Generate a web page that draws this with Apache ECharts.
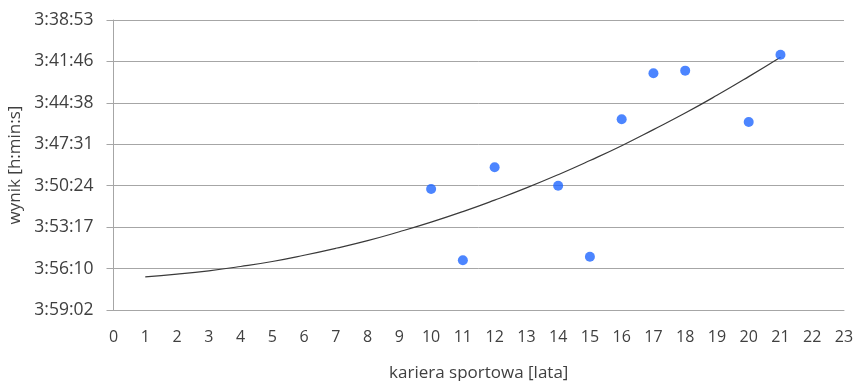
<!DOCTYPE html>
<html>
<head>
<meta charset="utf-8">
<script src="https://cdn.jsdelivr.net/npm/echarts@6/dist/echarts.min.js"></script>
<style>
  html, body { margin: 0; padding: 0; background: #fff; }
  #chart { width: 856px; height: 381px; }
</style>
</head>
<body>
<div id="chart"></div>
<script>
// Career length (years) vs. race result (h:mm:ss)
const careerYears = [10, 11, 12, 14, 15, 16, 17, 18, 20, 21];
const resultTimes = ['3:50:38', '3:55:35', '3:49:07', '3:50:24', '3:55:20',
                     '3:45:47', '3:42:35', '3:42:24', '3:45:58', '3:41:18'];

// Trend curve read along its length
const trendYears = [1, 2, 3, 4, 5, 6, 7, 8, 9, 10, 11, 12, 13, 14, 15, 16, 17, 18, 19, 20, 21];
const trendTimes = ['3:56:44', '3:56:33', '3:56:19', '3:56:01', '3:55:40', '3:55:14',
                    '3:54:45', '3:54:13', '3:53:36', '3:52:56', '3:52:12', '3:51:24',
                    '3:50:33', '3:49:38', '3:48:39', '3:47:37', '3:46:30', '3:45:21',
                    '3:44:07', '3:42:49', '3:41:28'];

// Y axis: 0.002-day steps from 0.152 to 0.166 day (in seconds)
const yTickLabels = ['3:38:53', '3:41:46', '3:44:38', '3:47:31', '3:50:24', '3:53:17', '3:56:10', '3:59:02'];
const yStep = 172.8;
const yMin = 76 * yStep;
const yMax = yMin + (yTickLabels.length - 1) * yStep;

function toSeconds(t) {
  const p = t.split(':').map(Number);
  return p[0] * 3600 + p[1] * 60 + p[2];
}

const font = '"Open Sans", "Liberation Sans", sans-serif';
const gray = '#a6a6a6';
const textColor = '#404040';

const chart = echarts.init(document.getElementById('chart'), null, { renderer: 'canvas' });
chart.setOption({
  animation: false,
  backgroundColor: '#fff',
  grid: { left: 113.5, right: 12, top: 20, bottom: 71, containLabel: false, outerBoundsMode: 'none' },
  xAxis: {
    type: 'value',
    min: 0, max: 23, interval: 1,
    name: 'kariera sportowa [lata]',
    nameLocation: 'middle',
    nameGap: 55,
    nameTextStyle: { fontFamily: font, fontSize: 17, color: textColor },
    axisLine: { onZero: false, lineStyle: { color: gray, width: 1 } },
    axisTick: { show: false },
    axisLabel: { fontFamily: font, fontSize: 16, color: textColor, margin: 19 },
    splitLine: { show: false }
  },
  yAxis: {
    type: 'value',
    inverse: true,
    min: yMin, max: yMax, interval: yStep,
    name: 'wynik [h:min:s]',
    nameLocation: 'middle',
    nameGap: 88,
    nameRotate: 90,
    nameTextStyle: { fontFamily: font, fontSize: 17, color: textColor },
    axisLine: { show: true, lineStyle: { color: gray, width: 1 } },
    axisTick: { show: true, length: 7, lineStyle: { color: gray } },
    axisLabel: {
      fontFamily: font, fontSize: 17.5, color: textColor, margin: 20,
      formatter: v => yTickLabels[Math.round((v - yMin) / yStep)] || ''
    },
    splitLine: { show: true, lineStyle: { color: gray, width: 1 } }
  },
  series: [
    {
      type: 'line',
      data: trendYears.map((x, i) => [x, toSeconds(trendTimes[i])]),
      smooth: true,
      symbol: 'none',
      lineStyle: { color: '#3a3a3a', width: 1.2 },
      z: 2
    },
    {
      type: 'scatter',
      data: careerYears.map((x, i) => [x, toSeconds(resultTimes[i])]),
      symbol: 'circle',
      symbolSize: 10,
      itemStyle: { color: '#1f66ff' },
      z: 3
    }
  ]
});
</script>
</body>
</html>
